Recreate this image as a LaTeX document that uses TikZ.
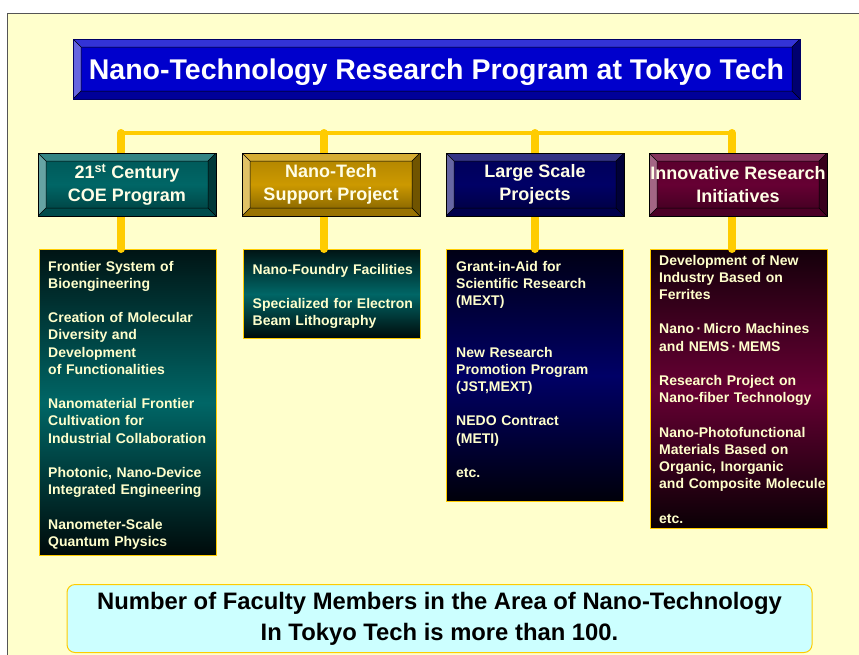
\documentclass[tikz,border=0pt]{standalone}
\usepackage{fontspec}
\setmainfont{Liberation Sans}
\usetikzlibrary{positioning}

\definecolor{paper}{HTML}{FFFFCC}
\definecolor{framegray}{HTML}{555555}
\definecolor{gold}{HTML}{FFCC00}
\definecolor{royal}{HTML}{0000CC}
\definecolor{coeteal}{HTML}{006666}
\definecolor{mustard}{HTML}{CC9900}
\definecolor{navyblue}{HTML}{000066}
\definecolor{wine}{HTML}{660033}
\definecolor{cream}{HTML}{FFFFCC}
\definecolor{aqua}{HTML}{CCFFFF}

\pgfdeclarelayer{back}
\pgfdeclarelayer{links}
\pgfsetlayers{back,links,main}

\tikzset{
  % raised frame drawn inside the node's outline
  bevel/.style={path picture={
      \coordinate (bnw) at (path picture bounding box.north west);
      \coordinate (bne) at (path picture bounding box.north east);
      \coordinate (bsw) at (path picture bounding box.south west);
      \coordinate (bse) at (path picture bounding box.south east);
      \coordinate (inw) at ([shift={(8pt,-8pt)}]bnw);
      \coordinate (ine) at ([shift={(-8pt,-8pt)}]bne);
      \coordinate (isw) at ([shift={(8pt,8pt)}]bsw);
      \coordinate (ise) at ([shift={(-8pt,8pt)}]bse);
      \fill[#1!80!white] (bnw) -- (bne) -- (ine) -- (inw) -- cycle;
      \fill[#1!60!white] (bnw) -- (bsw) -- (isw) -- (inw) -- cycle;
      \fill[#1!75!black] (bsw) -- (bse) -- (ise) -- (isw) -- cycle;
      \fill[#1!55!black] (bne) -- (bse) -- (ise) -- (ine) -- cycle;
      \draw[black,line width=.5pt] (inw) rectangle (ise)
        (bnw) -- (inw) (bne) -- (ine) (bsw) -- (isw) (bse) -- (ise);
  }},
  title/.style={draw=royal!50!black,line width=.6pt,fill=royal,bevel=royal,
    minimum width=727pt,minimum height=60pt,inner sep=0pt,text=white,
    text height=20.5pt,text depth=0pt,
    font=\fontsize{28.5}{34}\selectfont\bfseries},
  head/.style={draw=black,line width=.8pt,minimum width=178pt,minimum height=63pt,
    inner sep=0pt,align=center,text=white!90!yellow,
    top color=#1!85!black,bottom color=#1!60!black,middle color=#1,bevel=#1,
    font=\fontsize{18}{23}\selectfont\bfseries},
  topic/.style={draw=gold,line width=1pt,minimum width=177pt,anchor=north west,
    inner sep=0pt,top color=#1!20!black,bottom color=#1!10!black,middle color=#1},
  topictext/.style={anchor=base west,align=left,text width=180pt,inner sep=0pt,
    text=cream,font=\fontsize{14}{17.2}\selectfont\bfseries},
  bar/.style={draw=gold,line width=3.5pt},
  stub/.style={draw=gold,line width=8pt,line cap=round},
  note/.style={draw=gold,line width=1pt,fill=aqua,rounded corners=8pt,
    minimum width=745pt,minimum height=68pt,align=center,
    font=\fontsize{23.8}{31}\selectfont\bfseries}
}

\begin{document}
\begin{tikzpicture}[x=1pt,y=-1pt]
    \useasboundingbox (0,0) rectangle (859,654);
    %
    \begin{pgfonlayer}{back}
        \fill[paper] (7,13) rectangle (870,670);
        \draw[framegray,line width=1pt] (7,670) -- (7,13) -- (870,13);
        %
        \node[topic=coeteal,minimum height=306pt] (coelist) at (39,249) {};
        \node[topic=coeteal,minimum height=89pt] (supportlist) at (243,249) {};
        \node[topic=navyblue,minimum height=252pt] (largelist) at (446,249) {};
        \node[topic=wine,minimum height=279pt] (innovlist) at (650,249) {};
        %
        \node[topictext] (coetext) at (48,271) {Frontier System of\\
            Bioengineering\\[17.2pt]
            Creation of Molecular\\
            Diversity and\\
            Development\\
            of Functionalities\\[17.2pt]
            Nanomaterial Frontier\\
            Cultivation for\\
            Industrial Collaboration\\[17.2pt]
            Photonic, Nano-Device\\
            Integrated Engineering\\[17.2pt]
            Nanometer-Scale\\
            Quantum Physics};
        \node[topictext] (supporttext) at (252.5,274) {Nano-Foundry Facilities\\[17.2pt]
            Specialized for Electron\\
            Beam Lithography};
        \node[topictext] (largetext) at (456,271) {Grant-in-Aid for\\
            Scientific Research\\
            (MEXT)\\[34.4pt]
            New Research\\
            Promotion Program\\
            (JST,MEXT)\\[17.2pt]
            NEDO Contract\\
            (METI)\\[17.2pt]
            etc.};
        \node[topictext] (innovtext) at (659,265) {Development of New\\
            Industry Based on\\
            Ferrites\\[17.2pt]
            Nano\,·\,Micro Machines\\
            and NEMS\,·\,MEMS\\[17.2pt]
            Research Project on\\
            Nano-fiber Technology\\[17.2pt]
            Nano-Photofunctional\\
            Materials Based on\\
            Organic, Inorganic\\
            and Composite Molecule\\[17.2pt]
            etc.};
    \end{pgfonlayer}
    %
    \node[title] (program) at (436.5,69) {Nano-Technology Research Program at Tokyo Tech};
    %
    \node[head=coeteal] (coe) at (127,184.5) {21\textsuperscript{st} Century\\COE Program};
    \node[head=mustard] (support) at (331,184.5) {Nano-Tech\\Support Project};
    \node[head=navyblue] (large) at (535,184.5) {Large Scale\\Projects};
    \node[head=wine] (innov) at (738,184.5) {Innovative Research\\Initiatives};
    %
    \coordinate (j1) at (121,133);
    \coordinate (j2) at (324,133);
    \coordinate (j3) at (535,133);
    \coordinate (j4) at (732,133);
    %
    \begin{pgfonlayer}{links}
        \draw[bar] (j1) -- (j4);
        \draw[stub] (j1) -- (j1 |- coe.north);
        \draw[stub] (j2) -- (j2 |- support.north);
        \draw[stub] (j3) -- (j3 |- large.north);
        \draw[stub] (j4) -- (j4 |- innov.north);
        \draw[stub] (j1 |- coe.south) -- (j1 |- coelist.north);
        \draw[stub] (j2 |- support.south) -- (j2 |- supportlist.north);
        \draw[stub] (j3 |- large.south) -- (j3 |- largelist.north);
        \draw[stub] (j4 |- innov.south) -- (j4 |- innovlist.north);
    \end{pgfonlayer}
    %
    \node[note] (faculty) at (439.5,618.5) {Number of Faculty Members in the Area of Nano-Technology\\
        In Tokyo Tech is more than 100.};
\end{tikzpicture}
\end{document}
